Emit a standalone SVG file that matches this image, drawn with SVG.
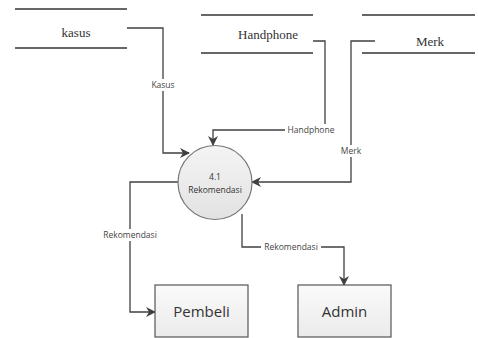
<svg xmlns="http://www.w3.org/2000/svg" width="478" height="338" viewBox="0 0 478 338">
  <style>
    .store { stroke: #333; stroke-width: 1.3; fill: none; }
    .storetext { font-family: "Liberation Serif", "Times New Roman", serif; font-size: 13px; fill: #333; text-anchor: middle; }
    .flow { stroke: #404040; stroke-width: 1.3; fill: none; marker-end: url(#arrow); }
    .label { font-family: "Open Sans", "Liberation Sans", sans-serif; font-size: 8.5px; fill: #444; text-anchor: middle; }
    .bg { fill: #fff; }
    .proc { fill: url(#procFill); stroke: #777; stroke-width: 1.2; }
    .proctext { font-family: "Open Sans", "Liberation Sans", sans-serif; font-size: 8.5px; fill: #333; text-anchor: middle; }
    .entity { fill: url(#entFill); stroke: #555; stroke-width: 1.2; }
    .enttext { font-family: "Open Sans", "Liberation Sans", sans-serif; font-size: 15px; fill: #333; text-anchor: middle; }
  </style>
  <defs>
    <marker id="arrow" markerWidth="10" markerHeight="10" refX="9" refY="5" orient="auto" markerUnits="userSpaceOnUse">
      <path d="M0,0 L10,5 L0,10 L3,5 Z" fill="#404040"/>
    </marker>
    <linearGradient id="procFill" x1="0" y1="0" x2="0" y2="1">
      <stop offset="0" stop-color="#f4f4f4"/>
      <stop offset="1" stop-color="#e2e2e2"/>
    </linearGradient>
    <linearGradient id="entFill" x1="0" y1="0" x2="0" y2="1">
      <stop offset="0" stop-color="#fafafa"/>
      <stop offset="1" stop-color="#ebebeb"/>
    </linearGradient>
  </defs>
  <rect width="478" height="338" fill="#fff"/>

  <!-- data stores -->
  <g id="store-kasus">
    <line class="store" x1="15" y1="9" x2="127" y2="9"/>
    <line class="store" x1="15" y1="48" x2="127" y2="48"/>
    <text class="storetext" x="76" y="37">kasus</text>
  </g>
  <g id="store-handphone">
    <line class="store" x1="201" y1="15" x2="313" y2="15"/>
    <line class="store" x1="201" y1="53" x2="313" y2="53"/>
    <text class="storetext" x="268" y="39">Handphone</text>
  </g>
  <g id="store-merk">
    <line class="store" x1="362" y1="15" x2="475" y2="15"/>
    <line class="store" x1="362" y1="53" x2="475" y2="53"/>
    <text class="storetext" x="430" y="46">Merk</text>
  </g>

  <!-- connectors -->
  <g id="connectors">
    <path class="flow" d="M127,28 H163 V153 H189"/>
    <rect class="bg" x="146" y="79" width="34" height="12"/>
    <text class="label" x="163" y="88">Kasus</text>

    <path class="flow" d="M313,41 H325 V130 H213 V145"/>
    <rect class="bg" x="285" y="124" width="52" height="12"/>
    <text class="label" x="311" y="133">Handphone</text>

    <path class="flow" d="M375,41 H351 V182 H252"/>
    <rect class="bg" x="337" y="145" width="28" height="12"/>
    <text class="label" x="351" y="154">Merk</text>

    <path class="flow" d="M180,182 H130 V312 H155"/>
    <rect class="bg" x="100" y="229" width="60" height="12"/>
    <text class="label" x="130" y="238">Rekomendasi</text>

    <path class="flow" d="M242,214 V247 H344 V285"/>
    <rect class="bg" x="261" y="241" width="60" height="12"/>
    <text class="label" x="291" y="250">Rekomendasi</text>
  </g>

  <!-- process -->
  <g id="process-4-1">
    <circle class="proc" cx="215" cy="182.5" r="37"/>
    <text class="proctext" x="215" y="180">4.1</text>
    <text class="proctext" x="215" y="193">Rekomendasi</text>
  </g>

  <!-- external entities -->
  <g id="entity-pembeli">
    <rect class="entity" x="155" y="285" width="93" height="52"/>
    <text class="enttext" x="201.5" y="317">Pembeli</text>
  </g>
  <g id="entity-admin">
    <rect class="entity" x="298" y="285" width="93" height="52"/>
    <text class="enttext" x="344.5" y="317">Admin</text>
  </g>
</svg>
